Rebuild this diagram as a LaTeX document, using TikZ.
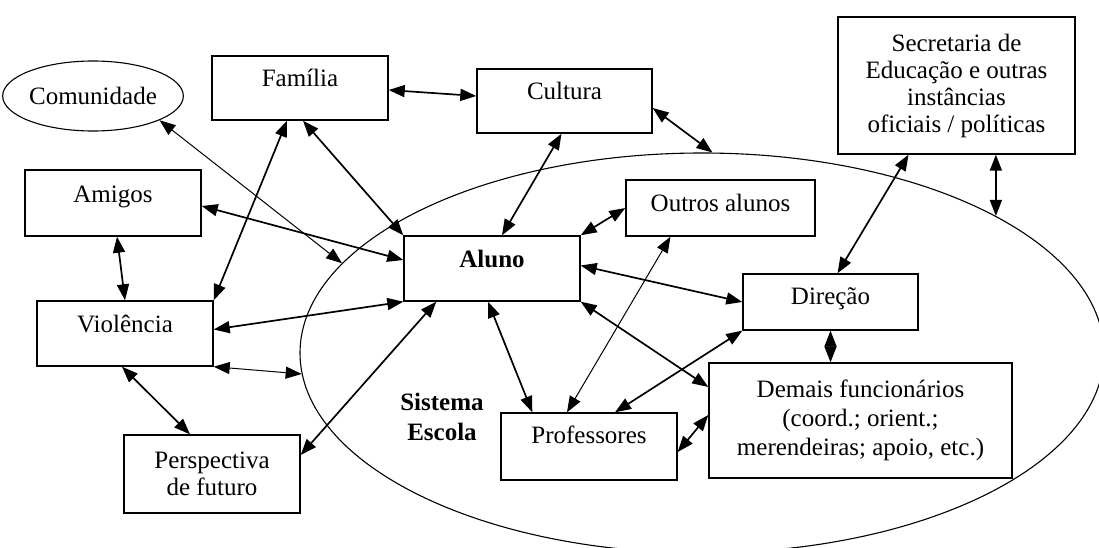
\documentclass[tikz,border=0pt]{standalone}
\usepackage{fontspec}
\setmainfont{Liberation Serif}
\usetikzlibrary{arrows.meta,shapes.geometric}

\begin{document}
\begin{tikzpicture}[x=1pt,y=-1pt]
        \tikzstyle{every node}=[font=\fontsize{25}{27}\selectfont]
        \tikzstyle{caixa}=[draw, fill=white, line width=1.4pt, align=center, inner sep=0pt]
        \tikzstyle{linha}=[caixa, text height=17pt, text depth=19pt]
        \tikzstyle{seta}=[{Triangle[length=16pt,width=12pt]}-{Triangle[length=16pt,width=12pt]}, line width=1.7pt]
        \tikzstyle{fina}=[seta, line width=1pt]

        \useasboundingbox (0,0) rectangle (1099,548);

        \node[draw, ellipse, line width=1.1pt, inner sep=0pt, minimum width=804, minimum height=400] (esc) at (702,353) {};

        \node[draw, ellipse, line width=1.1pt, inner sep=0pt, minimum width=166, minimum height=70] (com) at (93,96) {Comunidade};
        \node[linha, minimum width=176, minimum height=64] (fam) at (300,88) {Família};
        \node[linha, minimum width=175, minimum height=64] (cul) at (564.5,101) {Cultura};
        \node[caixa, minimum width=237, minimum height=137] (sec) at (956.5,85.5) {Secretaria de\\Educação e outras\\instâncias\\oficiais / políticas};
        \node[linha, minimum width=176, minimum height=66] (ami) at (113,203) {Amigos};
        \node[linha, minimum width=176, minimum height=65, font=\fontsize{25}{27}\selectfont\bfseries] (alu) at (492,268.5) {Aluno};
        \node[linha, minimum width=189, minimum height=56, text depth=10pt] (out) at (720.5,208) {Outros alunos};
        \node[linha, minimum width=175, minimum height=56, text depth=12pt] (dir) at (830.5,302) {Direção};
        \node[linha, minimum width=176, minimum height=65] (vio) at (125,333.5) {Violência};
        \node[caixa, minimum width=303, minimum height=115] (dem) at (860.5,420.5) {Demais funcionários\\[2pt](coord.; orient.;\\[2pt]merendeiras; apoio, etc.)};
        \node[linha, minimum width=176, minimum height=67, text depth=23pt] (pro) at (589,446.5) {Professores};
        \node[caixa, minimum width=176, minimum height=78] (per) at (212,474) {Perspectiva\\de futuro};
        \node[align=center, font=\fontsize{25}{30}\selectfont\bfseries] (sis) at (442,417) {Sistema\\Escola};

        \draw[seta] ([yshift=-2]fam.east) -- ([yshift=5]cul.west);
        \draw[seta] ([yshift=-7]cul.east) -- (esc.87);
        \draw[fina] (com.-20) -- (esc.166.5);
        \draw[seta] ([xshift=3]fam.south) -- (alu.north west);
        \draw[seta] ([xshift=-13]fam.south) -- (vio.north east);
        \draw[seta] ([yshift=-3]ami.east) -- ([yshift=8.5]alu.west);
        \draw[seta] ([xshift=4]ami.south) -- (vio.north);
        \draw[seta] ([xshift=-3]cul.south) -- ([xshift=10]alu.north);
        \draw[seta] (alu.north east) -- (out.west);
        \draw[seta] ([yshift=3]alu.east) -- (dir.west);
        \draw[seta] ([yshift=4]vio.east) -- (alu.south west);
        \draw[fina] (vio.south east) -- (esc.183.5);
        \draw[seta] ([xshift=-3]vio.south) -- ([xshift=-22]per.north);
        \draw[seta] ([yshift=19]per.east) -- ([xshift=33]alu.south west);
        \draw[seta] ([xshift=-4]alu.south) -- ([xshift=32]pro.north west);
        \draw[fina] ([xshift=-50]out.south) -- ([xshift=-22]pro.north);
        \draw[seta] (alu.south east) -- ([yshift=33.5]dem.west);
        \draw[seta] (dir.south west) -- ([xshift=26]pro.north);
        \draw[seta] ([yshift=-5.5]pro.east) -- ([yshift=5.5]dem.west);
        \draw[seta] (dir.south) -- (dir.south |- dem.north);
        \draw[seta] ([xshift=-48]sec.south) -- ([xshift=7]dir.north);
        \draw[seta] (sec.south -| esc.25.4) -- (esc.25.4);

\end{tikzpicture}
\end{document}
